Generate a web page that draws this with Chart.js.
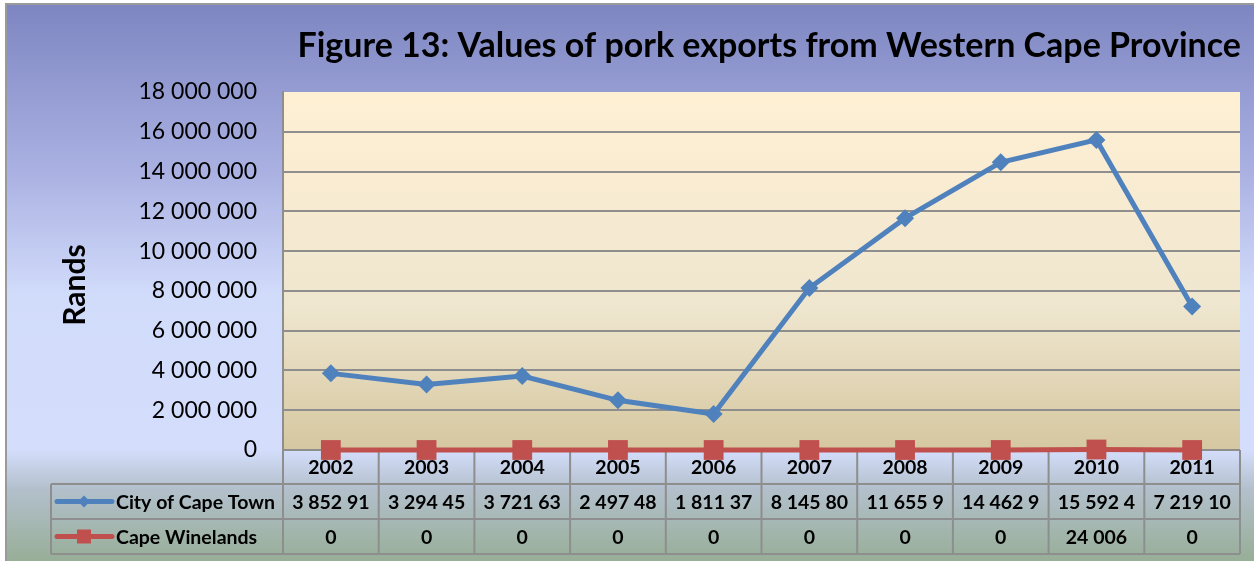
<!DOCTYPE html>
<html>
<head>
<meta charset="utf-8">
<script src="https://cdn.jsdelivr.net/npm/chart.js@4.4.1/dist/chart.umd.min.js"></script>
<style>
  html, body { margin: 0; padding: 0; background: #fff; }
  #wrap { width: 1254px; height: 561px; }
</style>
</head>
<body>
<div id="wrap"><canvas id="chart"></canvas></div>
<script>
// ── Data ──────────────────────────────────────────────────────────
const years = ['2002', '2003', '2004', '2005', '2006', '2007', '2008', '2009', '2010', '2011'];
const cityOfCapeTown = [3852910, 3294450, 3721630, 2497480, 1811370, 8145800, 11655900, 14462900, 15592400, 7219100];
const capeWinelands  = [0, 0, 0, 0, 0, 0, 0, 0, 24006, 0];
const seriesNames = ['City of Cape Town', 'Cape Winelands'];

const yMin = 0, yMax = 18000000, yStep = 2000000;
const titleText = 'Figure 13: Values of pork exports from Western Cape Province';
const yTitle = 'Rands';

// ── Styling ───────────────────────────────────────────────────────
const FONT = 'Lato, "Open Sans", sans-serif';
const GRID = '#8e8e8e';
const BLUE = '#4f81bd';
const RED  = '#c0504d';

// 3852910 -> "3 852 910"
function spaced(v) {
  return String(v).replace(/\B(?=(\d{3})+(?!\d))/g, ' ');
}

// chop characters off the end until the text fits, like a spreadsheet cell
function fitText(ctx, text, maxW) {
  let t = text;
  while (t.length > 1 && ctx.measureText(t).width > maxW) t = t.slice(0, -1);
  return t.trimEnd();
}

// ── Backgrounds: chart gradient + plot area gradient ──────────────
const backdrop = {
  id: 'backdrop',
  beforeDraw(chart) {
    const { ctx, width, height, chartArea: a } = chart;
    ctx.save();
    ctx.fillStyle = '#fff';
    ctx.fillRect(0, 0, width, height);

    const g = ctx.createLinearGradient(0, 5, 0, height);
    g.addColorStop(0.00, '#7e86c2');
    g.addColorStop(0.30, '#aab1e2');
    g.addColorStop(0.52, '#d1dbfa');
    g.addColorStop(0.80, '#d4defc');
    g.addColorStop(0.87, '#b3c0cc');
    g.addColorStop(1.00, '#97ae97');
    ctx.fillStyle = g;
    ctx.fillRect(7, 5, width - 7, height - 5);

    ctx.strokeStyle = '#9a9a9a';
    ctx.lineWidth = 2;
    ctx.beginPath();
    ctx.moveTo(6, height);
    ctx.lineTo(6, 4);
    ctx.lineTo(width, 4);
    ctx.stroke();

    const pg = ctx.createLinearGradient(0, a.top, 0, a.bottom);
    pg.addColorStop(0, '#fff0d4');
    pg.addColorStop(0.6, '#efe6cf');
    pg.addColorStop(1, '#d5c7a0');
    ctx.fillStyle = pg;
    ctx.fillRect(a.left, a.top, a.right - a.left, a.bottom - a.top);
    ctx.restore();
  }
};

// ── Data table under the x axis (years + values per series) ───────
const dataTable = {
  id: 'dataTable',
  beforeDatasetsDraw(chart) {
    const { ctx, chartArea: a } = chart;
    const x = chart.scales.x;
    const colW = x.getPixelForValue(1) - x.getPixelForValue(0);
    const legendLeft = 51;
    const rowY = [a.bottom, a.bottom + 34, a.bottom + 69, a.bottom + 104];

    ctx.save();
    ctx.strokeStyle = GRID;
    ctx.lineWidth = 2;
    ctx.beginPath();
    for (let r = 1; r < rowY.length; r++) {
      ctx.moveTo(legendLeft, rowY[r]);
      ctx.lineTo(a.right, rowY[r]);
    }
    for (let i = 0; i <= years.length; i++) {
      const cx = a.left + i * colW;
      ctx.moveTo(cx, rowY[0]);
      ctx.lineTo(cx, rowY[3]);
    }
    ctx.moveTo(legendLeft, rowY[1]);
    ctx.lineTo(legendLeft, rowY[3]);
    ctx.stroke();

    ctx.fillStyle = '#000';
    ctx.textAlign = 'center';
    ctx.textBaseline = 'middle';
    ctx.font = `bold 19.5px ${FONT}`;
    const rows = [cityOfCapeTown, capeWinelands];
    years.forEach((yr, i) => {
      const cx = x.getPixelForValue(i);
      ctx.fillText(yr, cx, (rowY[0] + rowY[1]) / 2 + 1);
      rows.forEach((vals, r) => {
        const cy = (rowY[r + 1] + rowY[r + 2]) / 2 + 1;
        ctx.fillText(fitText(ctx, spaced(vals[i]), colW - 14), cx, cy);
      });
    });

    // legend keys
    const colors = [BLUE, RED];
    seriesNames.forEach((name, r) => {
      const cy = (rowY[r + 1] + rowY[r + 2]) / 2;
      ctx.strokeStyle = colors[r];
      ctx.fillStyle = colors[r];
      ctx.lineWidth = 5;
      ctx.lineCap = 'round';
      ctx.beginPath();
      ctx.moveTo(57, cy);
      ctx.lineTo(112, cy);
      ctx.stroke();
      ctx.beginPath();
      if (r === 0) {
        ctx.moveTo(84, cy - 6); ctx.lineTo(90, cy); ctx.lineTo(84, cy + 6); ctx.lineTo(78, cy);
        ctx.closePath();
      } else {
        ctx.rect(77, cy - 7, 14, 14);
      }
      ctx.fill();
      ctx.fillStyle = '#000';
      ctx.textAlign = 'left';
      ctx.fillText(name, 116, cy + 1);
    });
    ctx.restore();
  }
};

// ── Titles ────────────────────────────────────────────────────────
const titles = {
  id: 'titles',
  afterDraw(chart) {
    const { ctx, chartArea: a } = chart;
    ctx.save();
    ctx.fillStyle = '#000';
    ctx.font = `bold 34px ${FONT}`;
    ctx.textAlign = 'right';
    ctx.textBaseline = 'alphabetic';
    ctx.fillText(titleText, a.right + 1, 57);

    ctx.translate(75, 285);
    ctx.rotate(-Math.PI / 2);
    ctx.font = `bold 30px ${FONT}`;
    ctx.textAlign = 'center';
    ctx.textBaseline = 'middle';
    ctx.fillText(yTitle, 0, 0);
    ctx.restore();
  }
};

// ── Chart ─────────────────────────────────────────────────────────
new Chart(document.getElementById('chart').getContext('2d'), {
  type: 'line',
  data: {
    labels: years,
    datasets: [{
      label: seriesNames[0],
      data: cityOfCapeTown,
      borderColor: BLUE,
      backgroundColor: BLUE,
      borderWidth: 5,
      pointStyle: 'rectRot',
      pointRadius: 9,
      pointBorderWidth: 0,
      tension: 0,
      clip: false
    }, {
      label: seriesNames[1],
      data: capeWinelands,
      borderColor: RED,
      backgroundColor: RED,
      borderWidth: 5,
      pointStyle: 'rect',
      pointRadius: 14,
      pointBorderWidth: 0,
      tension: 0,
      clip: false
    }]
  },
  options: {
    responsive: true,
    maintainAspectRatio: false,
    animation: false,
    layout: { padding: { left: 0, right: 10, top: 92, bottom: 111 } },
    plugins: {
      legend: { display: false },
      title: { display: false },
      tooltip: { enabled: false }
    },
    scales: {
      x: { display: false, offset: true },
      y: {
        min: yMin,
        max: yMax,
        ticks: {
          stepSize: yStep,
          callback: v => spaced(v),
          color: '#000',
          font: { family: FONT, size: 23 },
          padding: 26
        },
        grid: {
          color: c => (c.tick && c.tick.value === yMax ? 'rgba(0,0,0,0)' : GRID),
          lineWidth: 2,
          drawTicks: false
        },
        border: { color: GRID, width: 2 },
        afterFit(s) { s.width = 283; }
      }
    }
  },
  plugins: [backdrop, dataTable, titles]
});
</script>
</body>
</html>
